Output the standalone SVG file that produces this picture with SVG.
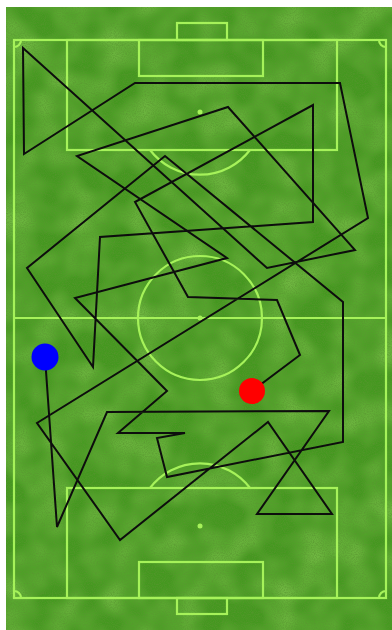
<svg xmlns="http://www.w3.org/2000/svg" width="392" height="630" viewBox="0 0 392 630">
  <defs>
    <filter id="grain" x="6" y="7" width="386" height="623" filterUnits="userSpaceOnUse">
      <feTurbulence type="fractalNoise" baseFrequency="0.9" numOctaves="2" seed="7" result="n"/>
      <feColorMatrix in="n" type="matrix" values="0 0 0 0 0.1  0 0 0 0 0.3  0 0 0 0 0.03  1.5 0 0 0 -0.55"/>
    </filter>
    <filter id="mottle" x="6" y="7" width="386" height="623" filterUnits="userSpaceOnUse">
      <feTurbulence type="fractalNoise" baseFrequency="0.03" numOctaves="2" seed="3" result="m"/>
      <feColorMatrix in="m" type="matrix" values="0 0 0 0 0.36  0 0 0 0 0.72  0 0 0 0 0.14  0.9 0 0 0 -0.3"/>
    </filter>
    <style>
      .ln { fill: none; stroke: #a6f25a; stroke-width: 2.2; }
      .spot { fill: #a6f25a; }
      .route { fill: none; stroke: #0d0d0d; stroke-width: 2; stroke-linejoin: miter; stroke-linecap: round; }
    </style>
  </defs>
  <rect x="0" y="0" width="392" height="630" fill="#ffffff"/>
  <g id="grass">
    <rect x="6" y="7" width="386" height="623" fill="#44981f"/>
    <rect x="6" y="7" width="386" height="623" filter="url(#mottle)"/>
    <rect x="6" y="7" width="386" height="623" filter="url(#grain)"/>
  </g>
  <g id="pitch">
    <rect class="ln" x="14" y="40" width="372" height="558"/>
    <line class="ln" x1="14" y1="318" x2="386" y2="318"/>
    <circle class="ln" cx="200" cy="318" r="62"/>
    <circle class="spot" cx="200" cy="318" r="2.5"/>
    <rect class="ln" x="67" y="40" width="270" height="110"/>
    <rect class="ln" x="139" y="40" width="124" height="36"/>
    <rect class="ln" x="177" y="23" width="50" height="17"/>
    <circle class="spot" cx="200" cy="112" r="2.5"/>
    <path class="ln" d="M150,150 A63,63 0 0 0 250,150"/>
    <rect class="ln" x="67" y="488" width="270" height="110"/>
    <rect class="ln" x="139" y="562" width="124" height="36"/>
    <rect class="ln" x="177" y="598" width="50" height="16"/>
    <circle class="spot" cx="200" cy="526" r="2.5"/>
    <path class="ln" d="M150,488 A63,63 0 0 1 250,488"/>
    <path class="ln" d="M14,47 A7,7 0 0 0 21,40"/>
    <path class="ln" d="M379,40 A7,7 0 0 0 386,47"/>
    <path class="ln" d="M14,591 A7,7 0 0 1 21,598"/>
    <path class="ln" d="M379,598 A7,7 0 0 1 386,591"/>
  </g>
  <g id="connectors">
    <polyline class="route" points="45,357 57,527 107,412 329,411 257,514 332,514 268,422 120,540 37,423 368,218 340,83 135,83 24,154 23,48 267,268 355,250 228,107 77,156 227,258 75,298 167,391 118,433 185,433 157,438 167,477 343,442 343,302 165,156 27,268 93,367 100,237 313,222 313,105 135,202 188,297 277,300 300,355 252,391"/>
  </g>
  <g id="start">
    <circle cx="45" cy="357" r="13.5" fill="#0000ff"/>
  </g>
  <g id="end">
    <circle cx="252" cy="391" r="13" fill="#ff0000"/>
  </g>
</svg>
